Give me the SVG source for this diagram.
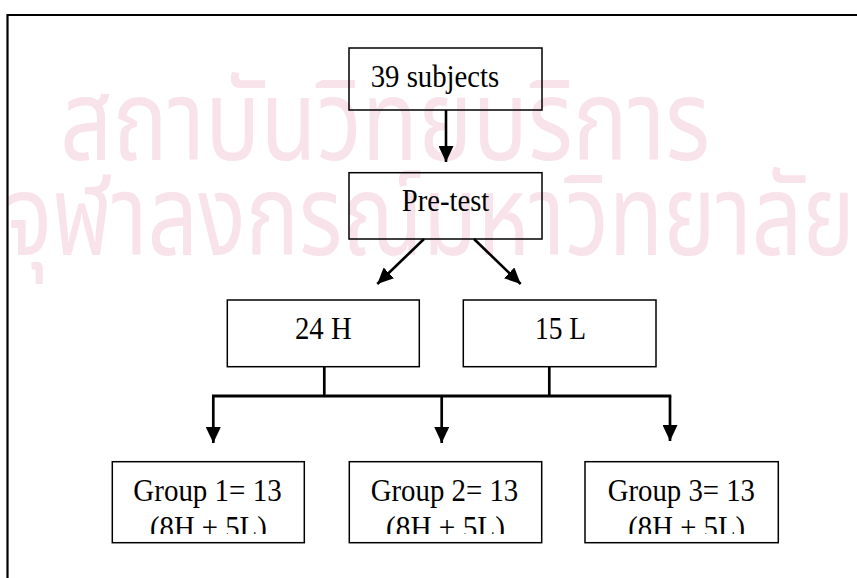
<svg xmlns="http://www.w3.org/2000/svg" width="857" height="578" viewBox="0 0 857 578">
<style>
.box{fill:none;stroke:#000;stroke-width:1.5}
.lbl{font-family:"Liberation Serif","Times New Roman",serif;font-size:30.5px;fill:#000}
.wm{font-family:"Noto Sans Thai","Noto Sans","DejaVu Sans",sans-serif;fill:#f9e3eb}
.conn{stroke:#000;fill:none;stroke-linecap:butt}
</style>
<defs>
<marker id="ah" markerUnits="userSpaceOnUse" markerWidth="16" markerHeight="15" refX="16" refY="7.5" orient="auto">
<path d="M0,0 L16,7.5 L0,15 z" fill="#000"/>
</marker>
<clipPath id="clipLine" clipPathUnits="userSpaceOnUse"><rect x="0" y="0" width="857" height="534"/></clipPath>
</defs>
<rect width="857" height="578" fill="#fff"/>
<g id="watermark">
<text class="wm" x="60" y="160" font-size="112" textLength="650" lengthAdjust="spacingAndGlyphs">สถาบันวิทยบริการ</text>
<text class="wm" x="5" y="255" font-size="112" textLength="850" lengthAdjust="spacingAndGlyphs">จุฬาลงกรณ์มหาวิทยาลัย</text>
</g>
<g id="frame">
<path d="M7.5,578 V15 H857" fill="none" stroke="#000" stroke-width="2.2"/>
</g>
<g id="connectors">
<line class="conn" x1="446" y1="110" x2="446" y2="162" stroke-width="2.6" marker-end="url(#ah)"/>
<line class="conn" x1="424" y1="239" x2="377.3" y2="284" stroke-width="2.6" marker-end="url(#ah)"/>
<line class="conn" x1="474" y1="239" x2="520.7" y2="284" stroke-width="2.6" marker-end="url(#ah)"/>
<line class="conn" x1="324.3" y1="367" x2="324.3" y2="396" stroke-width="2.7"/>
<line class="conn" x1="549.3" y1="367" x2="549.3" y2="396" stroke-width="2.7"/>
<line class="conn" x1="212" y1="396" x2="671.3" y2="396" stroke-width="3"/>
<line class="conn" x1="213.3" y1="396" x2="213.3" y2="443" stroke-width="2.7" marker-end="url(#ah)"/>
<line class="conn" x1="441.7" y1="396" x2="441.7" y2="443" stroke-width="2.7" marker-end="url(#ah)"/>
<line class="conn" x1="670" y1="396" x2="670" y2="441" stroke-width="2.7" marker-end="url(#ah)"/>
</g>
<g id="n-subjects">
<rect class="box" x="349" y="48" width="193" height="62"/>
<text class="lbl" x="370.7" y="86.7" textLength="128.6" lengthAdjust="spacingAndGlyphs">39 subjects</text>
</g>
<g id="n-pretest">
<rect class="box" x="349" y="172.7" width="193" height="66.3"/>
<text class="lbl" x="401.7" y="210.7" textLength="87.6" lengthAdjust="spacingAndGlyphs">Pre-test</text>
</g>
<g id="n-24h">
<rect class="box" x="227.3" y="300" width="192" height="66.7"/>
<text class="lbl" x="295" y="339" textLength="56.7" lengthAdjust="spacingAndGlyphs">24 H</text>
</g>
<g id="n-15l">
<rect class="box" x="463.3" y="300" width="192.7" height="66.7"/>
<text class="lbl" x="535" y="339" textLength="51" lengthAdjust="spacingAndGlyphs">15 L</text>
</g>
<g id="n-group1">
<rect class="box" x="112.3" y="461.7" width="192" height="81"/>
<text class="lbl" x="133.3" y="500.5" textLength="148.4" lengthAdjust="spacingAndGlyphs">Group 1= 13</text>
<text class="lbl" x="150" y="538" textLength="116.7" lengthAdjust="spacingAndGlyphs" clip-path="url(#clipLine)">(8H + 5L)</text>
</g>
<g id="n-group2">
<rect class="box" x="349.3" y="461.7" width="192.4" height="81"/>
<text class="lbl" x="370.7" y="500.5" textLength="147.6" lengthAdjust="spacingAndGlyphs">Group 2= 13</text>
<text class="lbl" x="386" y="538" textLength="119" lengthAdjust="spacingAndGlyphs" clip-path="url(#clipLine)">(8H + 5L)</text>
</g>
<g id="n-group3">
<rect class="box" x="585" y="461.7" width="193.3" height="81"/>
<text class="lbl" x="607.7" y="500.5" textLength="147.3" lengthAdjust="spacingAndGlyphs">Group 3= 13</text>
<text class="lbl" x="628.3" y="538" textLength="116.7" lengthAdjust="spacingAndGlyphs" clip-path="url(#clipLine)">(8H + 5L)</text>
</g>
</svg>
